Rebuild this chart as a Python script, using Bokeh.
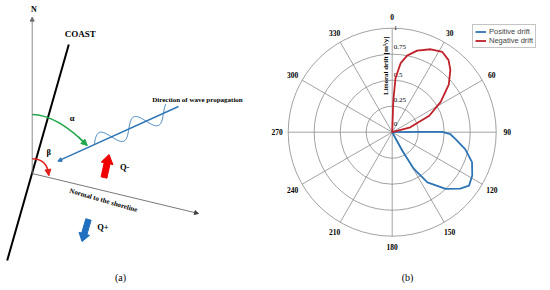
import numpy as np
from bokeh.plotting import figure
from bokeh.models import Range1d, Arrow, NormalHead
from bokeh.layouts import row
from bokeh.embed import file_html
from bokeh.resources import INLINE
from bokeh.core.properties import value

# ---------------- panel (b) data ----------------
angle_ticks = [0, 30, 60, 90, 120, 150, 180, 210, 240, 270, 300, 330]
angle_labels = ["0", "30", "60", "90", "120", "150", "180", "210", "240", "270", "300", "330"]
radial_ticks = [0.0, 0.25, 0.5, 0.75, 1.0]
radial_labels = ["0", "0.25", "0.5", "0.75", "1"]
radial_title = "Littoral drift [m\u00b3/y]"
series_names = ["Positive drift", "Negative drift"]

pos_angle = [89.0, 89.3, 89.6, 92.0, 96.0, 103.0, 110.6, 118.4, 124.8, 129.7, 136.7, 145.0, 149.4, 151.4, 153.0]
pos_drift = [0.0, 0.25, 0.48, 0.56, 0.61, 0.72, 0.82, 0.875, 0.90, 0.85, 0.75, 0.59, 0.41, 0.20, 0.0]

neg_angle = [0.0, 2.0, 3.5, 7.0, 11.0, 17.0, 25.0, 32.0, 38.0, 43.0, 50.0, 58.0, 66.0, 75.0, 80.0]
neg_drift = [0.0, 0.30, 0.52, 0.67, 0.75, 0.82, 0.88, 0.91, 0.88, 0.82, 0.71, 0.55, 0.39, 0.18, 0.0]

# ---------------- panel (a) schematic geometry (page pixels) ----------------
north_axis = [(31.7, 173.0), (31.7, 16.7)]
coast_line = [(6.7, 260.0), (68.3, 44.0)]
normal_line = [(31.7, 173.0), (198.0, 213.0)]
wave_dir_line = [(178.0, 106.0), (57.3, 160.7)]
alpha_arc = [(31.7, 114.0), (56.8, 114.5), (86.7, 145.0)]
beta_arc = [(31.7, 158.3), (47.0, 158.5), (48.3, 175.0)]
q_minus_arrow = [(103.5, 177.0), (108.5, 154.0)]
q_plus_arrow = [(88.0, 219.0), (81.5, 241.0)]

SERIF = value("Liberation Serif")

# =============== panel (a) ===============
p1 = figure(width=268, height=290, x_range=Range1d(0, 268), y_range=Range1d(290, 0),
            output_backend="svg", toolbar_location=None, min_border=0,
            x_axis_type=None, y_axis_type=None)
p1.grid.visible = False
p1.outline_line_color = None

grey = "#6e6e6e"
(nx0, ny0), (nx1, ny1) = north_axis
p1.add_layout(Arrow(end=NormalHead(size=4, fill_color=grey, line_color=grey),
                    x_start=nx0, y_start=ny0, x_end=nx1, y_end=ny1,
                    line_color=grey, line_width=0.8))
p1.line([c[0] for c in coast_line], [c[1] for c in coast_line], line_color="black", line_width=2)
(ox0, oy0), (ox1, oy1) = normal_line
p1.add_layout(Arrow(end=NormalHead(size=4, fill_color="#444444", line_color="#444444"),
                    x_start=ox0, y_start=oy0, x_end=ox1, y_end=oy1,
                    line_color="#555555", line_width=0.8))
blue = "#2e75b6"
(wx0, wy0), (wx1, wy1) = wave_dir_line
p1.add_layout(Arrow(end=NormalHead(size=4, fill_color=blue, line_color=blue),
                    x_start=wx0, y_start=wy0, x_end=wx1, y_end=wy1,
                    line_color=blue, line_width=1.4))
d = np.array([wx0 - wx1, wy0 - wy1])
L = np.hypot(*d)
u = d / L
nrm = np.array([u[1], -u[0]])
s = np.linspace(40, 122, 160)
amp = 9 * np.sin(2 * np.pi * (s - 40) / 38.0)
wxs = wx1 + u[0] * s + nrm[0] * amp
wys = wy1 + u[1] * s + nrm[1] * amp
p1.line(wxs, wys, line_color=blue, line_width=0.9)


def quad(P, t):
    (x0, y0), (cx, cy), (x2, y2) = P
    return ((1 - t) ** 2 * x0 + 2 * (1 - t) * t * cx + t ** 2 * x2,
            (1 - t) ** 2 * y0 + 2 * (1 - t) * t * cy + t ** 2 * y2)


for arc, col in ((alpha_arc, "#22a84a"), (beta_arc, "#e0201c")):
    (x0, y0), (cx, cy), (x2, y2) = arc
    p1.quadratic(x0=[x0], y0=[y0], x1=[x2], y1=[y2], cx=[cx], cy=[cy],
                 line_color=col, line_width=1.6)
    xs_, ys_ = quad(arc, 0.85)
    p1.add_layout(Arrow(end=NormalHead(size=6, fill_color=col, line_color=col),
                        x_start=xs_, y_start=ys_, x_end=x2, y_end=y2,
                        line_color=col, line_width=1.6))


def block_arrow(base, tip, sw, hw, hl):
    b = np.array(base, float)
    t = np.array(tip, float)
    dv = t - b
    Ln = np.hypot(*dv)
    uu = dv / Ln
    nn = np.array([-uu[1], uu[0]])
    neck = b + uu * (Ln - hl)
    pts = [b + nn * sw / 2, neck + nn * sw / 2, neck + nn * hw / 2, t,
           neck - nn * hw / 2, neck - nn * sw / 2, b - nn * sw / 2]
    return [pp[0] for pp in pts], [pp[1] for pp in pts]


ax_, ay_ = block_arrow(q_minus_arrow[0], q_minus_arrow[1], 6, 12, 9)
p1.patch(ax_, ay_, fill_color="#f00000", line_color="#f00000")
bx_, by_ = block_arrow(q_plus_arrow[0], q_plus_arrow[1], 5.5, 11, 8)
p1.patch(bx_, by_, fill_color="#1f6fbf", line_color="#1f6fbf")

p1.text(x=[33.3], y=[8.5], text=["N"], text_font=SERIF, text_font_style="bold",
        text_font_size="8px", text_align="center", text_baseline="middle", text_color="black")
p1.text(x=[64.3], y=[33.3], text=["COAST"], text_font=SERIF, text_font_style="bold",
        text_font_size="9px", text_align="left", text_baseline="middle", text_color="black")
p1.text(x=[151.7], y=[99.0], text=["Direction of wave propagation"], text_font=SERIF,
        text_font_style="bold", text_font_size="7px", text_align="left",
        text_baseline="middle", text_color="black")
p1.text(x=[71.7], y=[117.3], text=["\u03b1"], text_font=SERIF, text_font_style="bold",
        text_font_size="8.5px", text_align="center", text_baseline="middle", text_color="black")
p1.text(x=[48.3], y=[151.7], text=["\u03b2"], text_font=SERIF, text_font_style="bold",
        text_font_size="8.5px", text_align="center", text_baseline="middle", text_color="black")
p1.text(x=[103.0], y=[200.0], text=["Normal to the shoreline"], text_font=SERIF,
        text_font_style="bold", text_font_size="7px", text_align="center",
        text_baseline="middle", angle=-np.deg2rad(16), text_color="black")
p1.text(x=[119.5], y=[166.7], text=["Q-"], text_font=SERIF, text_font_style="bold",
        text_font_size="8.5px", text_align="left", text_baseline="middle", text_color="black")
p1.text(x=[96.7], y=[226.7], text=["Q+"], text_font=SERIF, text_font_style="bold",
        text_font_size="8.5px", text_align="left", text_baseline="middle", text_color="black")
p1.text(x=[120.0], y=[277.0], text=["(a)"], text_font=SERIF, text_font_size="10px",
        text_align="center", text_baseline="middle", text_color="black")

# =============== panel (b) ===============
PX = 104.0          # pixels per unit of drift
CX, CY = 391.7, 131.7
p2 = figure(width=282, height=290,
            x_range=Range1d((268 - CX) / PX, (550 - CX) / PX),
            y_range=Range1d(-(290 - CY) / PX, CY / PX),
            output_backend="svg", toolbar_location=None, min_border=0,
            x_axis_type=None, y_axis_type=None)
p2.grid.visible = False
p2.outline_line_color = None

gridc = "#8a8a8a"
rings = [r for r in radial_ticks if r > 0]
p2.circle(x=[0] * len(rings), y=[0] * len(rings), radius=rings, fill_color=None,
          line_color=gridc, line_width=0.8)
th = np.deg2rad(angle_ticks)
rmax = max(radial_ticks)
p2.segment(x0=[0] * len(th), y0=[0] * len(th), x1=list(rmax * np.sin(th)),
           y1=list(rmax * np.cos(th)), line_color=gridc, line_width=0.8)

lab_r = 1.106
p2.text(x=list(lab_r * np.sin(th)), y=list(lab_r * np.cos(th)), text=angle_labels,
        text_font=SERIF, text_font_style="bold", text_font_size="7.5px",
        text_align="center", text_baseline="middle", text_color="black")

radial_dy_px = [8.4, 6.4, 5.5, 7.3, 0.0]
p2.text(x=[0.015] * len(radial_ticks),
        y=[r + dy / PX for r, dy in zip(radial_ticks, radial_dy_px)],
        text=radial_labels, text_font=SERIF, text_font_size="7px",
        text_align="left", text_baseline="middle", text_color="black")
p2.text(x=[-0.064], y=[0.64], text=[radial_title], text_font=SERIF, text_font_style="bold",
        text_font_size="7px", text_align="center", text_baseline="middle",
        angle=np.pi / 2, text_color="black")

pa = np.deg2rad(pos_angle)
na = np.deg2rad(neg_angle)
p2.line(list(np.array(pos_drift) * np.sin(pa)), list(np.array(pos_drift) * np.cos(pa)),
        line_color="#2e75b6", line_width=1.8, line_join="round", legend_label=series_names[0])
p2.line(list(np.array(neg_drift) * np.sin(na)), list(np.array(neg_drift) * np.cos(na)),
        line_color="#c0202a", line_width=1.8, line_join="round", legend_label=series_names[1])

lg = p2.legend[0]
lg.location = (204, 242)
lg.label_text_font = "Liberation Sans"
lg.label_text_font_size = "7.5px"
lg.glyph_width = 11
lg.glyph_height = 9
lg.label_height = 9
lg.label_standoff = 3
lg.spacing = 0
lg.padding = 2
lg.margin = 0
lg.border_line_color = "#8a8a8a"
lg.border_line_width = 0.8
lg.background_fill_alpha = 1.0

p2.text(x=[(407 - CX) / PX], y=[-(277 - CY) / PX], text=["(b)"], text_font=SERIF,
        text_font_size="10px", text_align="center", text_baseline="middle", text_color="black")

layout = row(p1, p2)
open("out.html", "w").write(file_html(layout, INLINE))
